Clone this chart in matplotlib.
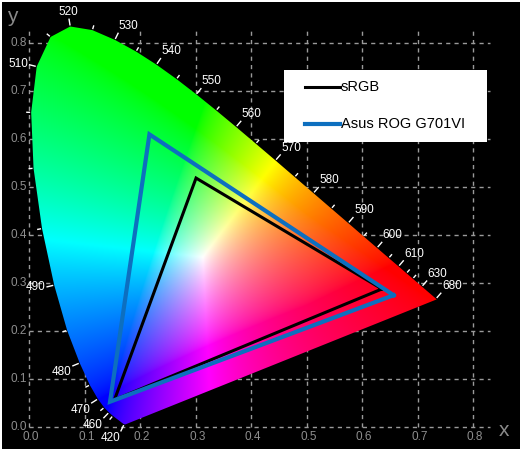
import numpy as np
import matplotlib
matplotlib.use("Agg")
import matplotlib.pyplot as plt
from matplotlib.patches import Polygon, Rectangle
from matplotlib.lines import Line2D

# CIE 1931 spectral locus (5 nm steps)
wavelengths = list(range(380, 705, 5))
locus_x = [0.1741, 0.1740, 0.1738, 0.1736, 0.1733, 0.1730, 0.1726, 0.1721, 0.1714, 0.1703,
           0.1689, 0.1669, 0.1644, 0.1611, 0.1566, 0.1510, 0.1440, 0.1355, 0.1241, 0.1096,
           0.0913, 0.0687, 0.0454, 0.0235, 0.0082, 0.0039, 0.0139, 0.0389, 0.0743, 0.1142,
           0.1547, 0.1929, 0.2296, 0.2658, 0.3016, 0.3373, 0.3731, 0.4087, 0.4441, 0.4788,
           0.5125, 0.5448, 0.5752, 0.6029, 0.6270, 0.6482, 0.6658, 0.6801, 0.6915, 0.7006,
           0.7079, 0.7140, 0.7190, 0.7230, 0.7260, 0.7283, 0.7300, 0.7311, 0.7320, 0.7327,
           0.7334, 0.7340, 0.7344, 0.7346, 0.7347]
locus_y = [0.0050, 0.0050, 0.0049, 0.0049, 0.0048, 0.0048, 0.0048, 0.0048, 0.0051, 0.0058,
           0.0069, 0.0086, 0.0109, 0.0138, 0.0177, 0.0227, 0.0297, 0.0399, 0.0578, 0.0868,
           0.1327, 0.2007, 0.2950, 0.4127, 0.5384, 0.6548, 0.7502, 0.8120, 0.8338, 0.8262,
           0.8059, 0.7816, 0.7543, 0.7243, 0.6923, 0.6589, 0.6245, 0.5896, 0.5547, 0.5202,
           0.4866, 0.4544, 0.4242, 0.3965, 0.3725, 0.3514, 0.3340, 0.3197, 0.3083, 0.2993,
           0.2920, 0.2859, 0.2809, 0.2770, 0.2740, 0.2717, 0.2700, 0.2689, 0.2680, 0.2673,
           0.2666, 0.2660, 0.2656, 0.2654, 0.2653]

labeled_wl = [420, 460, 470, 480, 490, 510, 520, 530, 540, 550, 560, 570, 580, 590,
              600, 610, 630, 680]
minor_wl = list(range(455, 625, 5))

# Gamut triangles (as drawn)
series_names = ["sRGB", "Asus ROG G701VI"]
srgb_x = [0.636, 0.301, 0.154, 0.636]
srgb_y = [0.287, 0.518, 0.056, 0.287]
asus_x = [0.657, 0.217, 0.146, 0.657]
asus_y = [0.274, 0.609, 0.052, 0.274]

grid_ticks = [0.0, 0.1, 0.2, 0.3, 0.4, 0.5, 0.6, 0.7, 0.8]
tick_labels = ["0.0", "0.1", "0.2", "0.3", "0.4", "0.5", "0.6", "0.7", "0.8"]

plt.rcParams['font.family'] = ['Liberation Sans', 'DejaVu Sans']

W, H = 520, 449
fig = plt.figure(figsize=(W / 100, H / 100), dpi=100, facecolor='black')
ax = fig.add_axes([0, 0, 1, 1])
ax.set_facecolor('black')
x0px, y0px, sx, sy = 29.0, 426.7, 555.0, 480.0
ax.set_xlim(-x0px / sx, (W - x0px) / sx)
ax.set_ylim(-(H - y0px) / sy, y0px / sy)
ax.axis('off')

# grid
gcol = '#9a9a9a'
for g in grid_ticks:
    ax.plot([g, g], [0, 0.83], color=gcol, lw=1.0, ls=(0, (3, 3)), zorder=1)
    ax.plot([0, 0.83], [g, g], color=gcol, lw=1.0, ls=(0, (3, 3)), zorder=1)

# chromaticity fill
nx, ny = 600, 600
gx = np.linspace(0, 0.75, nx)
gy = np.linspace(0.001, 0.85, ny)
XX, YY = np.meshgrid(gx, gy)
wx = np.clip(1 - XX / 0.5, 0, 1)
YE = YY - 0.065 * np.sin(np.pi * YY / 0.85) * wx
YE = np.clip(YE, 0.001, None)
Xc = XX / YE
Yc = np.ones_like(XX)
Zc = (1 - XX - YE) / YE
R = 3.2406 * Xc - 1.5372 * Yc - 0.4986 * Zc
G = -0.9689 * Xc + 1.8758 * Yc + 0.0415 * Zc
B = 0.0557 * Xc - 0.2040 * Yc + 1.0570 * Zc
rgb = np.clip(np.stack([R, G, B], axis=-1), 0, None)
mx = rgb.max(axis=-1, keepdims=True)
mx[mx == 0] = 1
rgb = rgb / mx
rgb = np.power(rgb, 1 / 1.5)
rgb = np.clip(rgb, 0, 1)
im = ax.imshow(rgb, extent=(0, 0.75, 0.001, 0.85), origin='lower', zorder=2,
               interpolation='bilinear', aspect='auto')
poly = Polygon(np.column_stack([locus_x, locus_y]), closed=True, transform=ax.transData,
               facecolor='none', edgecolor='none')
ax.add_patch(poly)
im.set_clip_path(poly)

# wavelength ticks and labels
lx = np.array(locus_x)
ly = np.array(locus_y)
disp = ax.transData.transform(np.column_stack([lx, ly]))
center = ax.transData.transform((0.33, 0.33))


def normal_at(i):
    a = disp[max(i - 1, 0)]
    b = disp[min(i + 1, len(disp) - 1)]
    d = b - a
    n = np.array([-d[1], d[0]])
    n = n / np.linalg.norm(n)
    if np.dot(n, disp[i] - center) < 0:
        n = -n
    return n


inv = ax.transData.inverted()
for wl in sorted(set(labeled_wl) | set(minor_wl)):
    i = wavelengths.index(wl)
    n = normal_at(i)
    p = disp[i]
    L = 8 if wl in labeled_wl else 5
    q0 = p + n * 1.0
    q1 = p + n * L
    a0 = inv.transform(q0)
    a1 = inv.transform(q1)
    ax.plot([a0[0], a1[0]], [a0[1], a1[1]], color='white', lw=1.0, zorder=3,
            solid_capstyle='butt')
    if wl in labeled_wl:
        t = inv.transform(p + n * (L + 1))
        ha = 'left' if n[0] > 0.3 else ('right' if n[0] < -0.3 else 'center')
        va = 'bottom' if n[1] > 0.3 else ('top' if n[1] < -0.3 else 'center')
        ax.text(t[0], t[1], str(wl), color='white', fontsize=8.5, ha=ha, va=va, zorder=5)

# triangles
ax.plot(srgb_x, srgb_y, color='black', lw=2.2, zorder=4, solid_joinstyle='miter')
ax.plot(asus_x, asus_y, color='#0d6fbf', lw=3.0, zorder=4, solid_joinstyle='miter')

# tick labels
tcol = '#8e8e8e'
for g, s in zip(grid_ticks, tick_labels):
    ax.annotate(s, (g, 0), xytext=(1.5, -7.5), textcoords='offset points',
                ha='center', va='center', color=tcol, fontsize=8.5, zorder=5)
    ax.annotate(s, (0, g), xytext=(-1.5, 0), textcoords='offset points',
                ha='right', va='center', color=tcol, fontsize=8.5, zorder=5)
ax.text((504 - x0px) / sx, (y0px - 430) / sy, 'x', color='#8a8a8a', fontsize=15,
        ha='center', va='center', zorder=5)
ax.text((12 - x0px) / sx, (y0px - 16) / sy, 'y', color='#8a8a8a', fontsize=15,
        ha='center', va='center', zorder=5)

# legend (manual)
fig.patches.append(Rectangle((284 / W, 1 - 142 / H), (487 - 284) / W, (142 - 70) / H,
                             transform=fig.transFigure, facecolor='white',
                             edgecolor='none', zorder=10))
for yy, col, lw, name in [(87, 'black', 2.2, series_names[0]),
                          (124, '#0d6fbf', 3.0, series_names[1])]:
    fig.lines.append(Line2D([305 / W, 340 / W], [1 - yy / H, 1 - yy / H],
                            transform=fig.transFigure, color=col, lw=lw, zorder=11))
    fig.text(341 / W, 1 - yy / H, name, color='black', fontsize=10.5,
             ha='left', va='center', zorder=12)

# thin white border at top/left
fig.patches.append(Rectangle((0, 1 - 2 / H), 1, 2 / H, transform=fig.transFigure,
                             facecolor='white', edgecolor='none', zorder=20))
fig.patches.append(Rectangle((0, 0), 2 / W, 1, transform=fig.transFigure,
                             facecolor='white', edgecolor='none', zorder=20))

fig.savefig('out.png', dpi=100, facecolor='black')
